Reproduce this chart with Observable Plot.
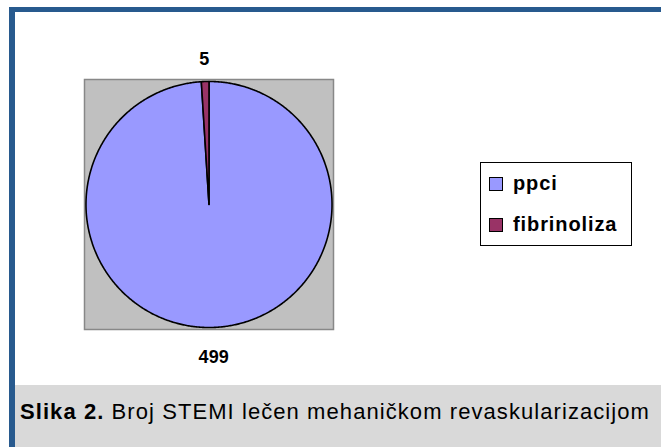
<!DOCTYPE html>
<html>
<head>
<meta charset="utf-8">
<script src="https://cdn.jsdelivr.net/npm/d3@7"></script>
<script src="https://cdn.jsdelivr.net/npm/@observablehq/plot@0.6"></script>
<style>
  html, body { margin: 0; padding: 0; background: #fff; }
  #page { position: relative; width: 661px; height: 447px; overflow: hidden; background: #fff; font-family: "Liberation Sans", Arial, sans-serif; }
  #topbar { position: absolute; left: 9px; top: 7px; width: 652px; height: 5px; background: #285a8e; }
  #leftbar { position: absolute; left: 9px; top: 7px; width: 6px; height: 440px; background: #285a8e; }
  #chart { position: absolute; left: 15px; top: 13px; }
  #legend { position: absolute; left: 480px; top: 162px; width: 150px; height: 82px; border: 1.5px solid #000; background: #fff; }
  .row { position: absolute; left: 8px; display: flex; align-items: center; font-weight: bold; font-size: 20px; letter-spacing: 0.9px; color: #000; }
  .sw { width: 12px; height: 12px; border: 1.5px solid #000; margin-right: 10px; box-sizing: content-box; }
  #capband { position: absolute; left: 15px; top: 385px; width: 646px; height: 62px; background: #d9d9d9; }
  #caption { position: absolute; left: 20px; top: 401px; font-size: 22px; line-height: 21px; white-space: nowrap; color: #000; }
</style>
</head>
<body>
<div id="page">
  <div id="topbar"></div>
  <div id="leftbar"></div>
  <div id="capband"></div>
  <div id="chart"></div>
  <div id="legend"></div>
  <div id="caption"><b>Slika 2.</b> Broj STEMI lečen mehaničkom revaskularizacijom</div>
</div>
<script>
const categories = ["ppci", "fibrinoliza"];
const values = [499, 5];
const colors = ["#9999ff", "#993366"];

const slices = d3.pie().sort(null)(values).map((s, i) => ({
  cat: categories[i], value: values[i], a0: s.startAngle, a1: s.endAngle, mid: (s.startAngle + s.endAngle) / 2
}));

const pts = [];
for (const s of slices) {
  pts.push({cat: s.cat, x: 0, y: 0});
  const n = Math.max(2, Math.ceil((s.a1 - s.a0) / (Math.PI / 360)));
  for (let k = 0; k <= n; k++) {
    const a = s.a0 + (s.a1 - s.a0) * k / n;
    pts.push({cat: s.cat, x: Math.sin(a), y: Math.cos(a)});
  }
  pts.push({cat: s.cat, x: 0, y: 0});
}

const labelR = 1.21;
const chart = Plot.plot({
  width: 646,
  height: 372,
  marginLeft: 69,
  marginRight: 328,
  marginTop: 66,
  marginBottom: 56,
  x: {domain: [-1.012, 1.012], axis: null},
  y: {domain: [-1.016, 1.016], axis: null},
  color: {domain: categories, range: colors},
  style: {background: "transparent", overflow: "visible"},
  marks: [
    Plot.frame({fill: "#c0c0c0", stroke: "#888888", strokeWidth: 1.5}),
    Plot.line(pts, {x: "x", y: "y", z: "cat", fill: "cat", stroke: "#000", strokeWidth: 1.6, strokeLinejoin: "round", curve: "linear"}),
    Plot.text(slices, {
      x: d => labelR * Math.sin(d.mid), y: d => labelR * Math.cos(d.mid), text: d => String(d.value),
      dy: 3.5, fontSize: 18, fontWeight: "bold", fill: "#000", fontFamily: "Liberation Sans, Arial, sans-serif"
    })
  ]
});
document.getElementById("chart").appendChild(chart);

const legend = document.getElementById("legend");
categories.forEach((c, i) => {
  const row = document.createElement("div");
  row.className = "row";
  row.style.top = (i === 0 ? 9 : 50) + "px";
  const sw = document.createElement("div");
  sw.className = "sw";
  sw.style.background = colors[i];
  const t = document.createElement("span");
  t.textContent = c;
  row.appendChild(sw);
  row.appendChild(t);
  legend.appendChild(row);
});

// fit caption to the reference width
const cap = document.getElementById("caption");
const w = cap.getBoundingClientRect().width;
const nChars = cap.textContent.length;
cap.style.letterSpacing = ((630 - w) / nChars) + "px";
</script>
</body>
</html>
